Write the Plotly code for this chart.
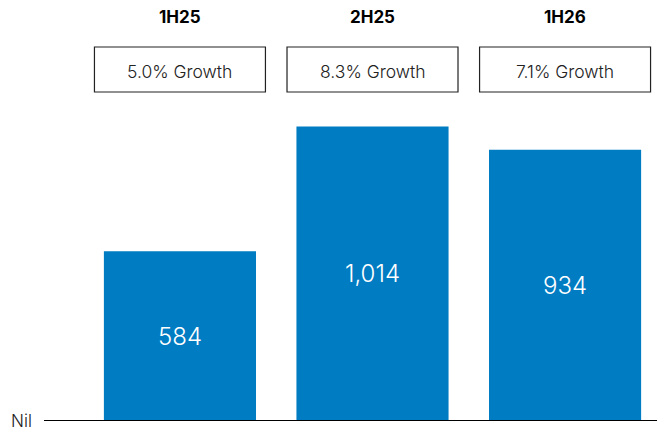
import plotly.graph_objects as go

periods = ["1H25", "2H25", "1H26"]
values = [584, 1014, 934]
value_labels = ["584", "1,014", "934"]
growth_labels = ["5.0% Growth", "8.3% Growth", "7.1% Growth"]

BAR_COLOR = "#007CC3"
FONT = "Inter"

# page body has an 8px default margin; figure is sized to fit the remaining window
PLOT_H = 413.0

x_idx = list(range(len(periods)))

fig = go.Figure()
fig.add_trace(go.Bar(
    x=x_idx, y=values, width=0.79,
    marker=dict(color=BAR_COLOR, line=dict(width=0)),
    hoverinfo="skip",
))

annotations = []
shapes = []
for i, (p, v, vl, g) in enumerate(zip(periods, values, value_labels, growth_labels)):
    annotations.append(dict(x=i, y=v / 2, xref="x", yref="y", text=vl, showarrow=False,
                            font=dict(family=FONT, size=24, color="white", weight=300),
                            xanchor="center", yanchor="middle"))
    annotations.append(dict(x=i, y=1 - 9 / PLOT_H, xref="x", yref="paper", text=p, showarrow=False,
                            font=dict(family=FONT, size=17, color="black", weight=700),
                            xanchor="center", yanchor="middle"))
    annotations.append(dict(x=i, y=1 - 63 / PLOT_H, xref="x", yref="paper", text=g, showarrow=False,
                            font=dict(family=FONT, size=17.5, color="#222222", weight=300),
                            xanchor="center", yanchor="middle"))
    shapes.append(dict(type="rect", xref="x", yref="paper",
                       x0=i - 0.444, x1=i + 0.444, y0=1 - 84 / PLOT_H, y1=1 - 39 / PLOT_H,
                       line=dict(color="#222222", width=1.2), fillcolor="rgba(0,0,0,0)"))

shapes.append(dict(type="line", xref="paper", yref="y", x0=0, x1=1, y0=0, y1=0,
                   line=dict(color="black", width=2)))
annotations.append(dict(x=-10 / 621, y=0, xref="paper", yref="y", text="Nil", showarrow=False,
                        font=dict(family=FONT, size=17, color="#222222", weight=300),
                        xanchor="right", yanchor="middle"))

fig.update_layout(
    width=657, height=422,
    margin=dict(l=36, r=0, t=0, b=9),
    paper_bgcolor="white", plot_bgcolor="white",
    showlegend=False,
    xaxis=dict(range=[-0.706, 2.519], visible=False, fixedrange=True),
    yaxis=dict(range=[0, PLOT_H / 0.2905], visible=False, fixedrange=True),
    annotations=annotations,
    shapes=shapes,
)

fig.write_html("out.html")
